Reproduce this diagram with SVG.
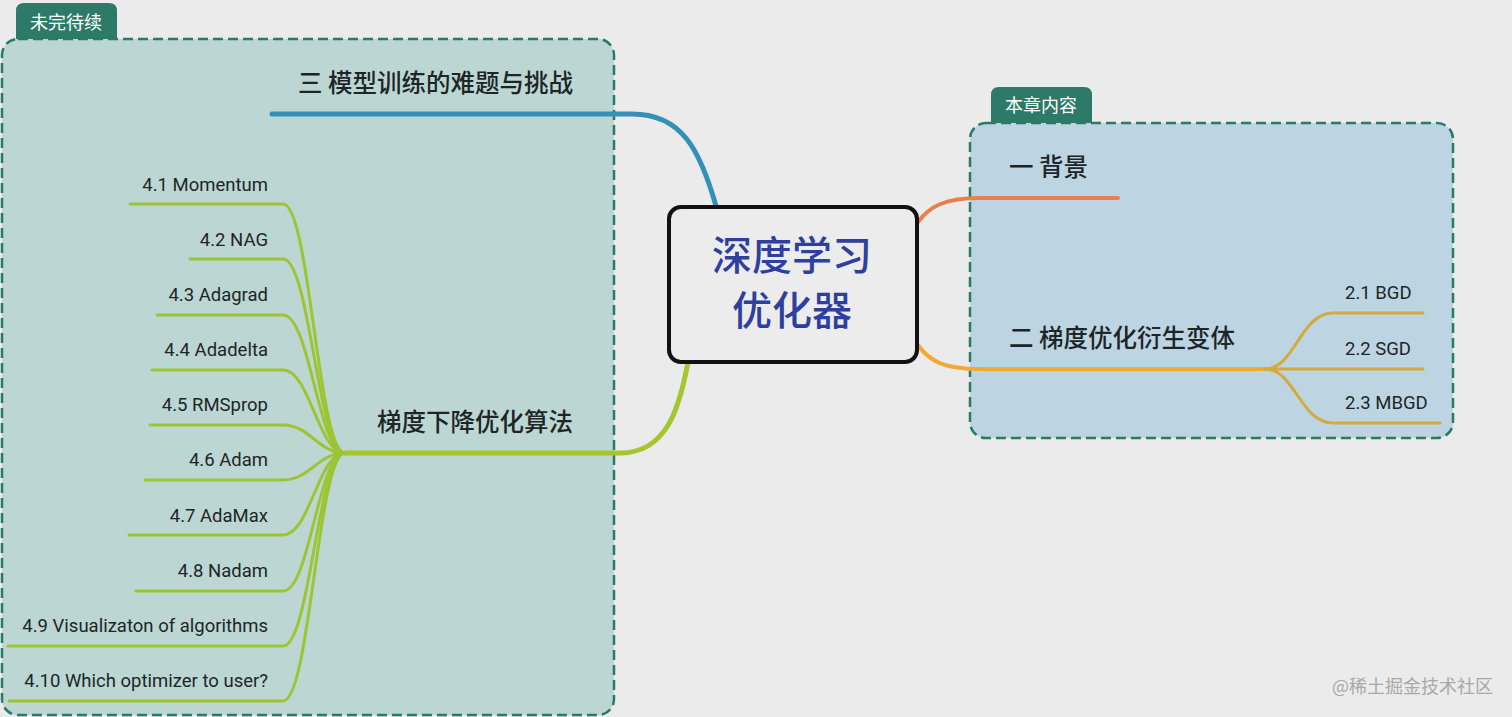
<svg xmlns="http://www.w3.org/2000/svg" width="1512" height="717" viewBox="0 0 1512 717">
<style>
.bg{fill:#ebebeb}
.box{stroke:#2a7a66;stroke-width:2.5;stroke-dasharray:10 5}
.tab{fill:#2d7a69}
.tabt{font-family:"Noto Sans CJK SC",sans-serif;font-size:18px;fill:#ffffff;text-anchor:middle}
.main{font-family:"Noto Sans CJK SC",sans-serif;font-size:24.5px;font-weight:500;fill:#1c2626}
.sub{font-family:Roboto,"Liberation Sans",sans-serif;font-size:18.5px;fill:#1c2626}
.l{fill:none;stroke-linecap:round}
.g{stroke:#9cc532;stroke-width:3}
.y{stroke:#d6a93c;stroke-width:3}
</style>
<rect class="bg" x="0" y="0" width="1512" height="717"/>
<g id="frame-left">
<path class="tab" d="M16 39 V11 Q16 3 24 3 H109 Q117 3 117 11 V39 Z"/>
<rect class="box" x="2" y="39" width="612" height="676" rx="16" fill="#bcd6d4"/>
<text class="tabt" x="66" y="29">未完待续</text>
</g>
<g id="frame-right">
<path class="tab" d="M991 123 V95 Q991 87 999 87 H1084 Q1092 87 1092 95 V123 Z"/>
<rect class="box" x="970" y="123" width="483" height="315" rx="16" fill="#bdd5e3"/>
<text class="tabt" x="1041" y="112">本章内容</text>
</g>
<g id="connectors">
<path class="l" stroke="#3590b7" stroke-width="5" d="M716 206 C700 150 682 114 632 114 L272 114"/>
<path class="l" stroke="#a6c62c" stroke-width="5" d="M688 362 C680 405 668 453 620 453 L345 453"/>
<path class="l" stroke="#e8804a" stroke-width="4" d="M918 222 C930 206 945 198 980 198 L1118 198"/>
<path class="l" stroke="#f2aa35" stroke-width="4" d="M918 345 C930 362 945 369 980 369 L1265 369"/>
<path class="l g" d="M345 453 C318 453 310 204 283 204 L130 204"/>
<path class="l g" d="M345 453 C318 453 310 259 283 259 L190 259"/>
<path class="l g" d="M345 453 C318 453 310 315 283 315 L157 315"/>
<path class="l g" d="M345 453 C318 453 310 370 283 370 L152 370"/>
<path class="l g" d="M345 453 C318 453 310 425 283 425 L150 425"/>
<path class="l g" d="M345 453 C318 453 310 480 283 480 L145 480"/>
<path class="l g" d="M345 453 C318 453 310 535 283 535 L129 535"/>
<path class="l g" d="M345 453 C318 453 310 591 283 591 L136 591"/>
<path class="l g" d="M345 453 C318 453 310 646 283 646 L8 646"/>
<path class="l g" d="M345 453 C318 453 310 701 283 701 L9 701"/>
<path class="l y" d="M1265 369 C1295 369 1300 313 1333 313 L1423 313"/>
<path class="l y" d="M1265 369 L1423 369"/>
<path class="l y" d="M1265 369 C1295 369 1300 423 1333 423 L1440 423"/>
</g>
<g id="center">
<rect x="669" y="207" width="248" height="155" rx="12" fill="#ececec" stroke="#111111" stroke-width="4"/>
<text x="792" y="270" font-family="'Noto Sans CJK SC',sans-serif" font-size="40" font-weight="500" fill="#2f3f9f" text-anchor="middle">深度学习</text>
<text x="792" y="325" font-family="'Noto Sans CJK SC',sans-serif" font-size="40" font-weight="500" fill="#2f3f9f" text-anchor="middle">优化器</text>
</g>
<g id="node-3"><text class="main" x="573" y="92" text-anchor="end">三 模型训练的难题与挑战</text></g>
<g id="node-4"><text class="main" x="573" y="431" text-anchor="end">梯度下降优化算法</text></g>
<g id="node-1"><text class="main" x="1009" y="176">一 背景</text></g>
<g id="node-2"><text class="main" x="1009" y="347">二 梯度优化衍生变体</text></g>
<g id="node-4-1"><text class="sub" x="268" y="190.5" text-anchor="end">4.1 Momentum</text></g>
<g id="node-4-2"><text class="sub" x="268" y="245.5" text-anchor="end">4.2 NAG</text></g>
<g id="node-4-3"><text class="sub" x="268" y="301" text-anchor="end">4.3 Adagrad</text></g>
<g id="node-4-4"><text class="sub" x="268" y="356" text-anchor="end">4.4 Adadelta</text></g>
<g id="node-4-5"><text class="sub" x="268" y="411" text-anchor="end">4.5 RMSprop</text></g>
<g id="node-4-6"><text class="sub" x="268" y="466" text-anchor="end">4.6 Adam</text></g>
<g id="node-4-7"><text class="sub" x="268" y="521.5" text-anchor="end">4.7 AdaMax</text></g>
<g id="node-4-8"><text class="sub" x="268" y="577" text-anchor="end">4.8 Nadam</text></g>
<g id="node-4-9"><text class="sub" x="268" y="632" text-anchor="end">4.9 Visualizaton of algorithms</text></g>
<g id="node-4-10"><text class="sub" x="268" y="687" text-anchor="end">4.10 Which optimizer to user?</text></g>
<g id="node-2-1"><text class="sub" x="1345" y="299">2.1 BGD</text></g>
<g id="node-2-2"><text class="sub" x="1345" y="354.5">2.2 SGD</text></g>
<g id="node-2-3"><text class="sub" x="1345" y="409">2.3 MBGD</text></g>
<text x="1332" y="693" font-family="'Noto Sans CJK SC',sans-serif" font-size="18" fill="#a8a8a8">@稀土掘金技术社区</text>
</svg>
